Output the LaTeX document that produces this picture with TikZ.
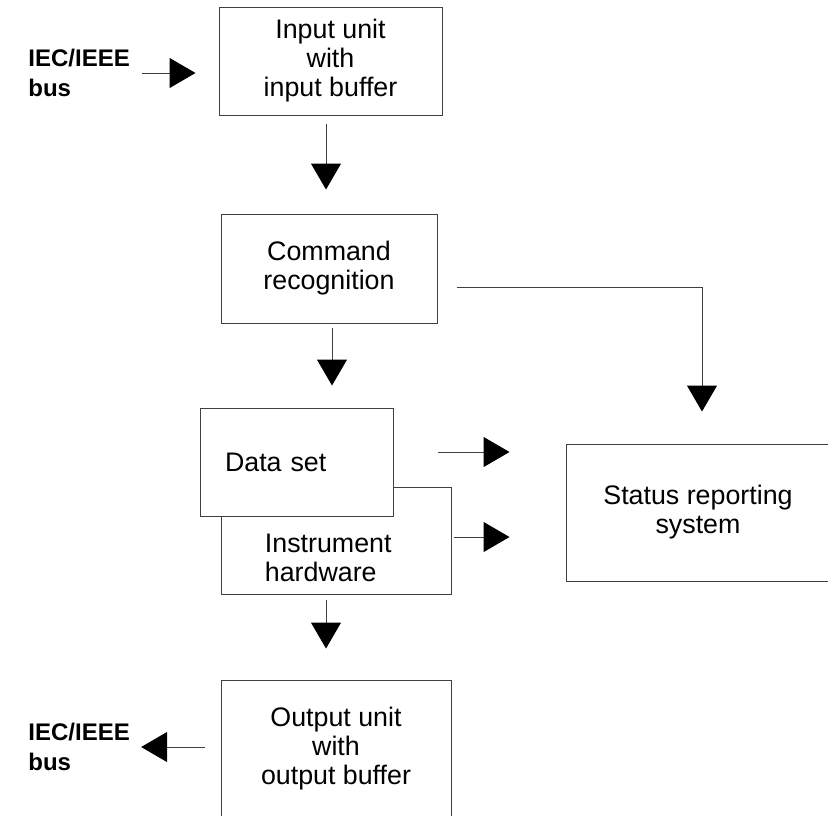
\documentclass[tikz,border=0pt]{standalone}
\usepackage{fontspec}
\setmainfont{Liberation Sans}
\usepackage{xcolor}
\definecolor{cLine}{HTML}{404040}
\usetikzlibrary{positioning,arrows.meta,calc}
\tikzset{
  node-box/.style={draw=cLine,line width=0.5pt,fill=white,align=center,
    inner sep=0pt,font=\fontsize{13.4}{14.5}\selectfont},
  node-text/.style={align=left,inner sep=0pt,font=\fontsize{13.4}{14.5}\selectfont},
  node-bus/.style={align=left,inner sep=0pt,font=\fontsize{12}{15}\selectfont\bfseries},
  arrow/.style={-{Triangle[length=13pt,width=15pt,color=black]},line width=0.5pt,draw=cLine},
}

\begin{document}
\begin{tikzpicture}[x=0.5pt,y=-0.5pt]
  \useasboundingbox (0,0) rectangle (828,815);
  \clip (0,0) rectangle (828,815);
  \node[node-box,minimum width=111.5pt,minimum height=54pt] (inbox) at (330.5,61) {Input unit\\with\\input buffer};
  \node[node-box,minimum width=108pt,minimum height=54.5pt] (cmdbox) at (329,268.5) {Command\\recognition};
  \node[node-box,minimum width=115pt,minimum height=53.5pt] (instbox) at (336,540.5) {};
  \node[node-text,anchor=west] (insttext) at ([xshift=22pt,yshift=-8.75pt]instbox.west) {Instrument\\hardware};
  \node[node-box,align=left,text width=71.5pt,inner xsep=12.5pt,minimum height=54pt] (databox) at (296.5,462) {Data set};
  \node[node-box,minimum width=132pt,minimum height=68.5pt] (statbox) at (698,512.5) {Status reporting\\system};
  \node[node-box,minimum width=115pt,minimum height=69pt] (outbox) at (336,749) {Output unit\\with\\output buffer};
  \node[node-bus,anchor=west] (busin) at (28,73) {IEC/IEEE\\bus};
  \node[node-bus,anchor=west] (busout) at (28,747) {IEC/IEEE\\bus};

  \draw[arrow,shorten <=6pt,shorten >=11.5pt] (busin.east) -- (busin.east -| inbox.west);
  \draw[arrow,shorten <=4pt,shorten >=12pt] ([xshift=-2.25pt]inbox.south) -- ([xshift=-2.25pt]inbox.south |- cmdbox.north);
  \draw[arrow,shorten <=2pt,shorten >=11pt] ([xshift=1.5pt]cmdbox.south) -- ([xshift=1.5pt]cmdbox.south |- databox.north);
  \draw[arrow,shorten >=16pt] ([shift={(19,18.5)}]cmdbox.east) -| ([xshift=2pt]statbox.north);
  \draw[arrow,shorten <=22pt,shorten >=28pt] ([yshift=5pt]databox.east) -- ([yshift=5pt]databox.east -| statbox.west);
  \draw[arrow,shorten <=1pt,shorten >=28pt] ([yshift=1.75pt]instbox.east) -- ([yshift=1.75pt]instbox.east -| statbox.west);
  \draw[arrow,shorten <=2.5pt,shorten >=15.5pt] ([xshift=-5pt]instbox.south) -- ([xshift=-5pt]instbox.south |- outbox.north);
  \draw[arrow,shorten <=8pt,shorten >=5.5pt] ([yshift=1pt]outbox.west) -- ([yshift=1pt]outbox.west -| busout.east);
\end{tikzpicture}
\end{document}
